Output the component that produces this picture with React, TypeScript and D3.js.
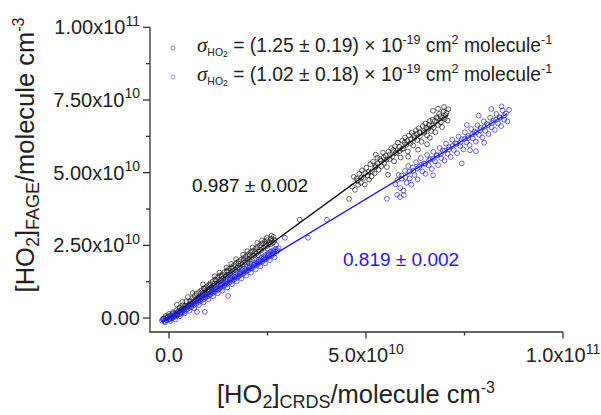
import React from 'react';
import * as d3 from 'd3';

// values in units of 1e9 molecule cm^-3
const blackLow: [number, number][] = [
  [-1.3,-0.2],[-0.9,0.7],[-0.6,-0.8],[-0.3,0.3],[0.0,1.4],[0.2,-0.5],[0.5,0.9],[0.8,0.0],[1.0,2.0],[1.3,0.6],
  [1.6,1.3],[1.9,2.7],[2.1,1.2],[2.4,2.2],[2.7,3.6],[3.0,1.8],[3.2,3.0],[3.5,4.4],[3.8,2.9],[4.1,4.2],
  [4.4,5.8],[4.8,7.2],[5.0,4.4],[5.3,5.9],[5.6,4.9],[5.9,6.8],[6.2,5.6],[6.5,7.6],[6.8,6.4],[7.0,8.3],
  [7.3,6.9],[7.6,8.9],[7.9,7.6],[8.2,9.5],[8.5,8.1],[8.8,10.2],[9.1,8.7],[9.4,10.6],[9.7,9.5],[10.0,11.3],
  [10.2,9.9],[10.5,12.0],[10.8,10.6],[11.1,12.6],[11.4,11.1],[11.7,13.2],[12.0,11.8],[12.3,13.9],[12.6,12.4],[12.9,14.6],
  [13.2,13.0],[13.5,15.0],[13.8,13.7],[14.1,15.8],[14.4,14.2],[14.7,16.3],[15.0,14.9],[15.3,17.0],[15.6,15.4],[15.9,17.5],
  [16.2,16.2],[16.5,18.2],[16.8,16.6],[17.1,18.9],[17.4,17.3],[17.7,19.5],[18.0,17.9],[18.3,20.1],[18.6,18.5],[18.9,20.7],
  [19.2,19.1],[19.5,21.2],[19.8,19.8],[20.1,21.9],[20.4,20.3],[20.7,22.6],[21.0,21.0],[21.3,23.1],[21.6,21.5],[21.9,23.8],
  [22.2,22.2],[22.5,24.4],[22.8,22.8],[23.1,25.0],[23.4,23.3],[23.7,25.7],[24.0,24.1],[24.3,26.2],[24.6,24.6],[24.9,26.7],
  [25.2,25.3],[25.5,26.0],[25.8,25.4],[26.1,26.5],[26.4,25.9],[26.8,26.8],
  [2.0,4.6],[3.4,5.6],[6.0,8.6],[8.6,11.6],[11.6,14.4],[14.6,17.4],[17.0,20.3],[19.9,23.0],[22.4,25.8],[24.8,27.6],
  [9.0,10.0],[10.4,11.4],[11.9,12.9],[13.3,14.4],[14.8,15.9],[16.1,17.2],[17.6,18.7],[19.0,20.0],[20.5,21.6],[21.9,22.7],
  [23.3,24.3],[24.6,25.5],[25.9,27.3],[26.5,27.9],[12.8,15.6],[15.8,18.6],[18.8,21.8],[21.2,24.3],[23.6,26.7],[26.0,28.3],
];
const blackSparse: [number, number][] = [[33.2,33.8],[45.7,41.0],[55.6,49.3],[52.5,56.2]];
const blackHigh: [number, number][] = [
  [47.2,44.1],[47.6,47.9],[48.0,45.8],[48.3,49.6],[48.7,46.5],[49.0,50.8],[49.4,48.2],[49.7,45.9],[50.1,51.7],[50.4,49.0],
  [50.8,47.6],[51.1,52.9],[51.5,50.4],[51.8,53.8],[52.2,49.8],[52.5,52.3],[52.9,55.1],[53.2,51.0],[53.6,54.6],[53.9,52.2],
  [54.3,56.9],[54.6,53.4],[55.0,55.8],[55.3,51.9],[55.7,57.2],[56.0,54.7],[56.4,58.4],[56.7,55.6],[57.1,53.9],[57.4,59.1],
  [57.8,56.6],[58.1,60.3],[58.5,57.4],[58.8,55.2],[59.2,61.0],[59.5,58.3],[59.9,62.1],[60.2,59.6],[60.6,57.3],[60.9,62.8],
  [61.3,60.1],[61.6,63.7],[62.0,59.4],[62.3,61.9],[62.7,64.6],[63.0,61.2],[63.4,65.3],[63.7,62.5],[64.1,60.6],[64.4,66.0],
  [64.8,63.7],[65.1,66.9],[65.5,62.8],[65.8,65.1],[66.2,67.8],[66.5,64.3],[66.9,68.2],[67.2,65.6],[67.6,63.9],[67.9,69.0],
  [68.3,66.4],[68.6,70.2],[69.0,67.3],[69.3,65.7],[69.7,71.1],[70.0,68.5],[70.4,70.6],[70.7,67.9],
  [47.9,47.2],[48.9,48.4],[49.8,49.9],[50.6,50.2],[51.4,48.7],[52.3,51.9],[53.0,53.1],[53.8,54.0],[54.5,55.2],[55.2,54.5],
  [56.1,56.3],[56.9,57.8],[57.6,57.0],[58.4,58.9],[59.1,58.1],[59.8,60.4],[60.5,60.9],[61.4,61.5],[62.2,62.8],[62.9,63.4],
  [63.6,63.9],[64.6,64.2],[65.3,65.6],[66.0,66.4],[66.8,66.2],[67.5,67.9],[68.1,68.7],[68.9,69.4],[69.5,68.9],[70.2,69.8],
  [63.2,57.9],[60.7,55.5],[66.2,62.0],[65.5,59.8],[68.3,72.0],[69.8,72.6],[70.9,71.8],[67.0,71.3],[46.5,45.2],[46.9,48.6],
];
const blueLow: [number, number][] = [
  [-1.8,-0.9],[-1.5,-0.2],[-1.2,-1.1],[-0.9,0.3],[-0.6,-0.6],[-0.3,0.6],[0.0,-0.4],[0.3,0.9],[0.6,-0.1],[0.9,0.2],
  [1.2,1.4],[1.5,0.4],[1.8,1.7],[2.1,0.9],[2.4,2.3],[2.7,1.3],[3.0,2.6],[3.3,1.8],[3.6,3.2],[3.9,2.2],
  [4.2,3.8],[4.5,2.9],[4.8,4.3],[5.1,3.5],[5.4,4.9],[5.7,3.9],[6.0,5.3],[6.3,4.4],[6.6,5.9],[6.9,4.9],
  [7.2,6.4],[7.5,5.5],[7.8,6.9],[8.1,6.0],[8.4,7.5],[8.7,6.4],[9.0,8.0],[9.3,7.1],[9.6,8.5],[9.9,7.5],
  [10.2,9.1],[10.5,8.1],[10.8,9.6],[11.1,8.6],[11.4,10.1],[11.7,9.1],[12.0,10.7],[12.3,9.6],[12.6,11.2],[12.9,10.2],
  [13.2,11.7],[13.5,10.6],[13.8,12.3],[14.1,11.2],[14.4,12.8],[14.7,11.7],[15.0,13.3],[15.3,12.2],[15.6,13.8],[15.9,12.7],
  [16.2,14.4],[16.5,13.2],[16.8,14.9],[17.1,13.8],[17.4,15.4],[17.7,14.3],[18.0,15.9],[18.3,14.8],[18.6,16.5],[18.9,15.3],
  [19.2,17.0],[19.5,15.9],[19.8,17.5],[20.1,16.4],[20.4,18.0],[20.7,16.9],[21.0,18.6],[21.3,17.4],[21.6,19.1],[21.9,18.0],
  [22.2,19.6],[22.5,18.5],[22.8,20.1],[23.1,19.0],[23.4,20.7],[23.7,19.5],[24.0,21.2],[24.3,20.1],[24.6,21.7],[24.9,20.6],
  [25.2,22.2],[25.5,21.1],[25.8,22.8],[26.1,21.6],[26.4,23.3],[26.7,22.2],[27.0,23.6],[27.4,22.9],[27.8,24.0],
  [-1.0,-1.5],[0.4,-1.0],[1.6,-0.5],[2.8,0.6],[4.0,1.6],[5.2,2.5],[6.4,3.4],[7.6,4.5],[8.8,5.4],[10.0,6.5],
  [11.2,7.5],[12.4,8.5],[13.6,9.4],[14.8,10.5],[16.0,11.6],[17.2,12.6],[18.4,13.6],[19.6,14.6],[20.8,15.6],[22.0,16.7],
  [23.2,17.8],[24.4,18.8],[25.6,19.9],[26.8,20.9],
  [0.9,1.6],[3.1,3.6],[5.6,5.8],[8.0,8.4],[10.6,10.4],[13.0,12.8],[15.4,15.0],[17.8,17.2],[20.0,19.3],[22.6,21.6],
  [25.0,23.9],[27.2,25.2],
  [-1.6,-0.5],[-0.4,0.1],[0.7,0.6],[1.9,1.0],[3.4,2.9],[4.6,3.6],[5.8,4.6],[7.0,5.8],[8.2,6.6],[9.4,7.7],
  [10.7,8.8],[11.9,9.9],[13.1,11.0],[14.3,11.9],[15.5,13.1],[16.7,14.1],[17.9,15.2],[19.1,16.2],[20.3,17.3],[21.5,18.3],
  [22.7,19.3],[23.9,20.4],[25.1,21.5],[26.3,22.4],[27.5,23.4],
  [1.0,0.9],[2.2,1.8],[3.7,2.6],[5.0,4.1],[6.2,5.0],[7.4,6.1],[8.6,7.1],[9.8,8.1],[11.0,9.2],[12.2,10.1],
  [13.4,11.3],[14.6,12.3],[15.8,13.3],[17.0,14.4],[18.2,15.5],[19.4,16.6],[20.6,17.6],[21.8,18.7],[23.0,19.7],[24.2,20.8],
  [25.4,21.8],[26.6,22.9],
  [7.1,2.1],[9.1,2.1],[15.0,7.6],
];
const blueSparse: [number, number][] = [[29.4,27.6],[35.3,27.6],[40.1,33.8],[55.3,41.0]];
const blueHigh: [number, number][] = [
  [57.5,46.0],[57.9,42.4],[58.3,49.2],[58.7,44.7],[59.1,47.9],[59.5,43.8],[59.9,50.6],[60.3,46.5],[60.7,52.3],[61.1,48.0],
  [61.5,45.9],[61.9,51.8],[62.3,49.2],[62.7,53.6],[63.1,47.7],[63.5,52.0],[63.9,55.0],[64.3,50.4],[64.7,53.2],[65.1,49.6],
  [65.5,56.1],[65.9,52.5],[66.3,54.7],[66.7,51.3],[67.1,57.2],[67.5,53.9],[67.9,56.0],[68.3,52.6],[68.7,58.5],[69.1,55.0],
  [69.5,57.6],[69.9,54.2],[70.3,60.0],[70.7,56.5],[71.1,58.8],[71.5,55.4],[71.9,61.3],[72.3,57.8],[72.7,60.1],[73.1,56.7],
  [73.5,62.4],[73.9,59.2],[74.3,61.5],[74.7,58.0],[75.1,63.9],[75.5,60.4],[75.9,62.6],[76.3,59.5],[76.7,65.0],[77.1,61.8],
  [77.5,64.1],[77.9,60.7],[78.3,66.3],[78.7,63.0],[79.1,65.4],[79.5,62.1],[79.9,67.6],[80.3,64.4],[80.7,66.8],[81.1,63.3],
  [81.5,68.9],[81.9,65.6],[82.3,67.9],[82.7,64.7],[83.1,70.2],[83.5,66.9],[83.9,69.1],[84.3,66.0],[84.7,71.4],[85.1,68.2],
  [85.5,70.3],[85.9,67.6],
  [58.0,47.5],[59.0,49.0],[60.0,48.4],[61.0,50.3],[62.0,50.6],[63.0,51.4],[64.0,52.7],[65.0,53.0],[66.0,54.3],[67.0,54.8],
  [68.0,55.9],[69.0,56.4],[70.0,57.6],[71.0,58.0],[72.0,59.2],[73.0,59.9],[74.0,60.5],[75.0,61.6],[76.0,62.0],[77.0,63.3],
  [78.0,63.8],[79.0,64.6],[80.0,65.7],[81.0,66.3],[82.0,67.1],[83.0,68.2],[84.0,68.8],[85.0,69.5],
  [81.8,71.9],[84.4,72.8],[78.6,69.6],[75.6,66.4],[86.3,71.6],[58.6,41.6],[59.6,42.3],
  [67.0,49.1],[74.3,53.2],[76.4,57.7],[77.9,57.4],[80.0,60.3],
];

const fitSlopes = [0.987, 0.819];
const fitXRanges: [number, number][] = [[-1.5, 70.8], [-1.5, 85.8]];
const fitLabels = ['0.987 ± 0.002', '0.819 ± 0.002'];
const legendValues = ['(1.25 ± 0.19)', '(1.02 ± 0.18)'];

const yTicks = [0, 25, 50, 75, 100];
const yTickMant = ['0.00', '2.50x10', '5.00x10', '7.50x10', '1.00x10'];
const yTickExp = ['', '10', '10', '10', '11'];
const yMinor = [12.5, 37.5, 62.5, 87.5];
const xTicks = [0, 50, 100];
const xTickMant = ['0.0', '5.0x10', '1.0x10'];
const xTickExp = ['', '10', '11'];
const xMinor = [25, 75];

const FONT = "'Liberation Sans', Arial, sans-serif";
const BLUE = '#1a1aff';

export default function App() {
  const x = d3.scaleLinear().domain([-4.82, 100]).range([150, 563]);
  const y = d3.scaleLinear().domain([-4.8, 100]).range([332, 27.3]);
  const line = d3.line<[number, number]>().x(d => x(d[0])).y(d => y(d[1]));
  const black = [...blackLow, ...blackSparse, ...blackHigh];
  const blue = [...blueLow, ...blueSparse, ...blueHigh];
  const fits = fitSlopes.map((s, i) => fitXRanges[i].map(v => [v, s * v] as [number, number]));
  const axisColor = '#333';

  return (
    <svg width={601} height={415} style={{ position: 'absolute', left: 0, top: 0, background: '#fff' }} fontFamily={FONT}>
      <rect width={601} height={415} fill="#fff" />
      {/* points */}
      <g fill="none" stroke="#000" strokeOpacity={0.65} strokeWidth={0.9}>
        {black.map((d, i) => <circle key={i} cx={x(d[0])} cy={y(d[1])} r={2.4} />)}
      </g>
      <g fill="none" stroke={BLUE} strokeOpacity={0.72} strokeWidth={0.9}>
        {blue.map((d, i) => <circle key={i} cx={x(d[0])} cy={y(d[1])} r={2.4} />)}
      </g>
      <path d={line(fits[0]) || ''} stroke="#111" strokeWidth={1.3} fill="none" />
      <path d={line(fits[1]) || ''} stroke={BLUE} strokeWidth={1.4} fill="none" />

      {/* axes */}
      <g stroke={axisColor} strokeWidth={1.3}>
        <line x1={150} x2={150} y1={y(100)} y2={332.6} />
        <line x1={149.4} x2={x(100)} y1={332} y2={332} />
        {yTicks.map(t => <line key={'yt' + t} x1={143} x2={150} y1={y(t)} y2={y(t)} />)}
        {yMinor.map(t => <line key={'ym' + t} x1={146} x2={150} y1={y(t)} y2={y(t)} />)}
        {xTicks.map(t => <line key={'xt' + t} x1={x(t)} x2={x(t)} y1={332} y2={338.5} />)}
        {xMinor.map(t => <line key={'xm' + t} x1={x(t)} x2={x(t)} y1={332} y2={335.5} />)}
      </g>
      <g fontSize={20} fill="#222">
        {yTicks.map((t, i) => (
          <text key={'yl' + t} x={140} y={y(t) + 7} textAnchor="end">
            {yTickMant[i]}
            {yTickExp[i] && <tspan fontSize={14} dy={-8.5}>{yTickExp[i]}</tspan>}
          </text>
        ))}
        {xTicks.map((t, i) => (
          <text key={'xl' + t} x={x(t)} y={362} textAnchor="middle">
            {xTickMant[i]}
            {xTickExp[i] && <tspan fontSize={14} dy={-8.5}>{xTickExp[i]}</tspan>}
          </text>
        ))}
      </g>

      {/* axis titles */}
      <text x={356} y={403} textAnchor="middle" fontSize={25.5} fill="#222">
        [HO<tspan fontSize={18} dy={5}>2</tspan><tspan dy={-5}>]</tspan>
        <tspan fontSize={18} dy={5}>CRDS</tspan>
        <tspan dy={-5}>/molecule cm</tspan>
        <tspan fontSize={16} dy={-10}>-3</tspan>
      </text>
      <text transform="translate(34,155) rotate(-90)" textAnchor="middle" fontSize={25.5} fill="#222">
        [HO<tspan fontSize={18} dy={5}>2</tspan><tspan dy={-5}>]</tspan>
        <tspan fontSize={18} dy={5}>FAGE</tspan>
        <tspan dy={-5}>/molecule cm</tspan>
        <tspan fontSize={16} dy={-10}>-3</tspan>
      </text>

      {/* legend */}
      {[0, 1].map(i => (
        <g key={'lg' + i}>
          <circle cx={173} cy={48 + i * 29} r={2} fill="none" stroke={i === 0 ? '#000' : BLUE} strokeOpacity={0.5} strokeWidth={0.8} />
          <text x={197} y={52 + i * 29} fontSize={19.3} fill="#222">
            <tspan fontStyle="italic" fontFamily="'Liberation Serif', serif" fontSize={21}>σ</tspan>
            <tspan fontSize={10.5} dy={4}>HO</tspan>
            <tspan fontSize={8.5} dy={1}>2</tspan>
            <tspan dy={-5}>{' = ' + legendValues[i] + ' × 10'}</tspan>
            <tspan fontSize={12.5} dy={-8}>-19</tspan>
            <tspan dy={8}> cm</tspan>
            <tspan fontSize={12.5} dy={-8}>2</tspan>
            <tspan dy={8}> molecule</tspan>
            <tspan fontSize={12.5} dy={-8}>-1</tspan>
          </text>
        </g>
      ))}

      {/* fit annotations */}
      <text x={192} y={192} fontSize={19} fill="#111">{fitLabels[0]}</text>
      <text x={343} y={266} fontSize={19} fill={BLUE}>{fitLabels[1]}</text>
    </svg>
  );
}
